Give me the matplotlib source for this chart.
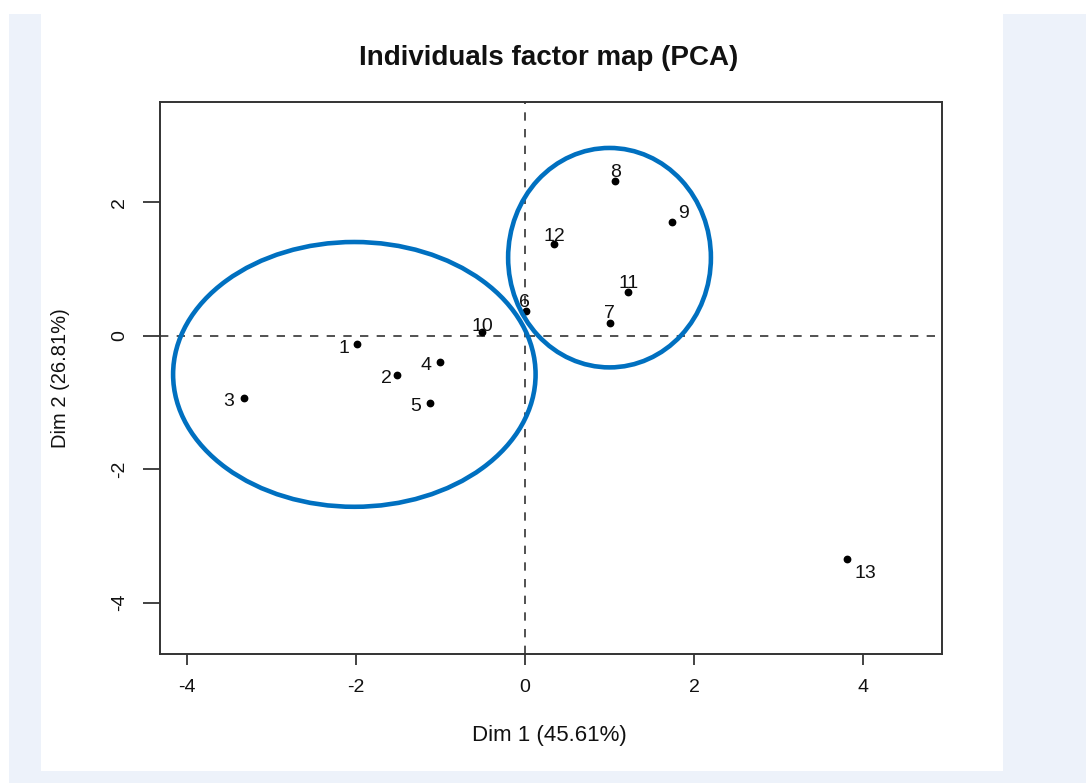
import matplotlib
matplotlib.use("Agg")
import matplotlib.pyplot as plt
from matplotlib.patches import Ellipse, Rectangle

plt.rcParams["font.family"] = ["Liberation Sans", "DejaVu Sans"]

# individuals on the first two PCA dimensions
labels = ["1", "2", "3", "4", "5", "6", "7", "8", "9", "10", "11", "12", "13"]
dim1 = [-1.99, -1.51, -3.33, -1.01, -1.13, 0.01, 1.01, 1.07, 1.74, -0.51, 1.22, 0.34, 3.81]
dim2 = [-0.13, -0.59, -0.94, -0.39, -1.01, 0.37, 0.19, 2.32, 1.71, 0.05, 0.65, 1.38, -3.35]
pct1, pct2 = 45.61, 26.81

# hand-drawn groupings: centre x, centre y, width, height
group_cx = [-2.02, 1.00]
group_cy = [-0.58, 1.17]
group_w = [4.29, 2.40]
group_h = [3.97, 3.29]

# label offsets (points) relative to the dot, mimicking R's autoLab placement
label_off = {
    "1": (-9.4, -2.9), "2": (-8.0, -2.4), "3": (-10.6, -2.4), "4": (-10.0, -2.4),
    "5": (-10.0, -2.4), "6": (-0.7, 6.0), "7": (-0.5, 7.2), "8": (0, 6.0),
    "9": (8.0, 6.0), "10": (0, 4.3), "11": (0.4, 6.5), "12": (0.7, 5.3),
    "13": (13.6, -10.1),
}

W, H = 1086, 783
fig = plt.figure(figsize=(W / 100, H / 100), dpi=100, facecolor="white")

# page background: light blue frame with a white panel
fig.patches.append(Rectangle((9 / W, 0), 1 - 9 / W, 1 - 14 / H, transform=fig.transFigure,
                             facecolor="#EDF2FA", edgecolor="none", zorder=-10))
fig.patches.append(Rectangle((41 / W, 1 - 771 / H), (1003 - 41) / W, (771 - 14) / H,
                             transform=fig.transFigure, facecolor="white",
                             edgecolor="none", zorder=-9))

ax = fig.add_axes([160 / W, 1 - 654 / H, (942 - 160) / W, (654 - 102) / H])
ax.set_facecolor("white")
ax.set_xlim(-4.32, 4.935)
ax.set_ylim(-4.772, 3.504)

ax.axhline(0, color="#333333", lw=1.2, dashes=(5, 5), zorder=1)
ax.axvline(0, color="#333333", lw=1.2, dashes=(5, 5), zorder=1)

ax.plot(dim1, dim2, "o", color="black", ms=4.6, zorder=3)
for lab, x, y in zip(labels, dim1, dim2):
    dx, dy = label_off[lab]
    ax.annotate(lab, (x, y), xytext=(dx, dy), textcoords="offset points",
                ha="center", va="center", fontsize=14, color="#111111", zorder=4)

for cx, cy, w, h in zip(group_cx, group_cy, group_w, group_h):
    ax.add_patch(Ellipse((cx, cy), w, h, fill=False, edgecolor="#0070C0",
                         lw=3.3, zorder=5))

ax.set_xticks([-4, -2, 0, 2, 4])
ax.set_yticks([-4, -2, 0, 2])
ax.set_xticklabels(["-4", "-2", "0", "2", "4"])
ax.set_yticklabels(["-4", "-2", "0", "2"], rotation=90, va="center")
ax.tick_params(axis="both", width=1.2, color="#222222", labelsize=14,
               labelcolor="#111111")
ax.tick_params(axis="x", length=8, pad=10)
ax.tick_params(axis="y", length=12, pad=11)
for s in ax.spines.values():
    s.set_linewidth(1.4)
    s.set_color("#333333")

fig.text(549 / W, 1 - 58 / H, "Individuals factor map (PCA)", ha="center", va="center",
         fontsize=20, fontweight="bold", color="#111111")
fig.text(549 / W, 1 - 736 / H, f"Dim 1 ({pct1:.2f}%)", ha="center", va="center",
         fontsize=16, color="#111111")
fig.text(60 / W, 1 - 378 / H, f"Dim 2 ({pct2:.2f}%)", ha="center", va="center",
         rotation=90, fontsize=14.5, color="#111111")

fig.savefig("out.png", dpi=100)
